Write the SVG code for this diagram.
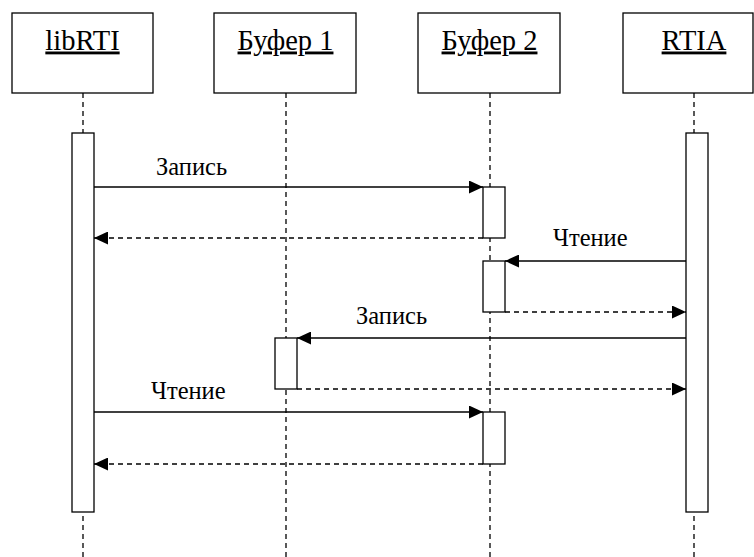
<svg xmlns="http://www.w3.org/2000/svg" width="754" height="557" viewBox="0 0 754 557">
<defs>
<marker id="ah" viewBox="0 0 14 13" refX="14" refY="6.5" markerWidth="14" markerHeight="13" markerUnits="userSpaceOnUse" orient="auto">
<path d="M0,0 L14,6.5 L0,13 Z" fill="#000"/>
</marker>
<style>
.box{fill:#fff;stroke:#000;stroke-width:1.3}
.life{stroke:#000;stroke-width:1.3;stroke-dasharray:5 4;fill:none}
.act{fill:#fff;stroke:#000;stroke-width:1.3}
.msg{stroke:#000;stroke-width:1.3;fill:none;marker-end:url(#ah)}
.ret{stroke:#000;stroke-width:1.3;fill:none;stroke-dasharray:5 4;marker-end:url(#ah)}
text{font-family:"Liberation Serif",serif}
.title{font-size:28.5px;text-anchor:middle;text-decoration:underline}
.lbl{font-size:24.5px}
</style>
</defs>
<rect width="754" height="557" fill="#fff"/>
<g id="lifelines">
<line class="life" x1="83" y1="93" x2="83" y2="557"/>
<line class="life" x1="286" y1="93" x2="286" y2="557"/>
<line class="life" x1="490" y1="93" x2="490" y2="557"/>
<line class="life" x1="694" y1="93" x2="694" y2="557"/>
</g>
<g id="libRTI">
<rect class="box" x="12" y="13" width="141" height="80"/>
<text class="title" x="82.5" y="49.5">libRTI</text>
<rect class="act" x="72" y="133" width="22" height="379"/>
</g>
<g id="buf1">
<rect class="box" x="214" y="13" width="142" height="80"/>
<text class="title" x="285.5" y="49.5">Буфер 1</text>
<rect class="act" x="275" y="338" width="22" height="51"/>
</g>
<g id="buf2">
<rect class="box" x="418" y="13" width="142" height="80"/>
<text class="title" x="489.5" y="49.5">Буфер 2</text>
<rect class="act" x="483" y="187" width="22" height="51"/>
<rect class="act" x="483" y="261" width="22" height="51"/>
<rect class="act" x="483" y="412" width="22" height="52"/>
</g>
<g id="RTIA">
<rect class="box" x="623" y="13" width="130" height="80"/>
<text class="title" x="694" y="49.5">RTIA</text>
<rect class="act" x="686" y="133" width="22" height="379"/>
</g>
<g id="connectors">
<line class="msg" x1="94" y1="187" x2="483" y2="187"/>
<line class="ret" x1="483" y1="238" x2="94" y2="238"/>
<line class="msg" x1="686" y1="261" x2="505" y2="261"/>
<line class="ret" x1="505" y1="312" x2="686" y2="312"/>
<line class="msg" x1="686" y1="338" x2="297" y2="338"/>
<line class="ret" x1="297" y1="389" x2="686" y2="389"/>
<line class="msg" x1="94" y1="412" x2="483" y2="412"/>
<line class="ret" x1="483" y1="464" x2="94" y2="464"/>
</g>
<g id="labels">
<text class="lbl" x="156" y="175">Запись</text>
<text class="lbl" x="553" y="246">Чтение</text>
<text class="lbl" x="356" y="324">Запись</text>
<text class="lbl" x="151" y="399">Чтение</text>
</g>
</svg>
